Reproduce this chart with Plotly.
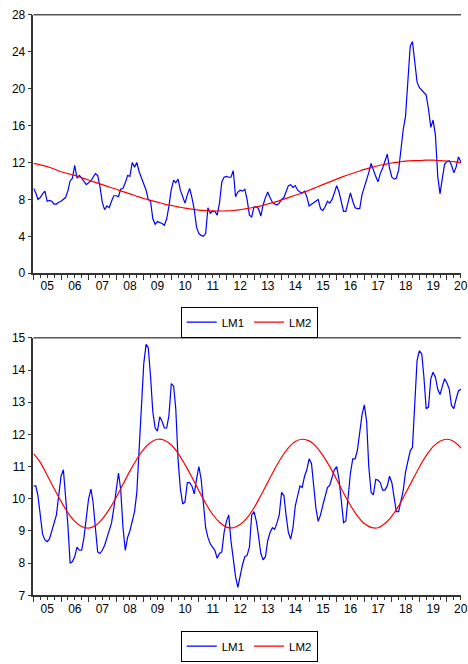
import pandas as pd
import plotly.graph_objects as go

# ---------------- data (monthly, 2005M01 onward) ----------------
top_lm1 = [
    9.2, 8.7, 8.0, 8.2, 8.6, 8.9, 7.8, 7.9, 7.8, 7.5, 7.5, 7.7,
    7.8, 8.0, 8.2, 8.9, 10.0, 10.3, 11.7, 10.3, 10.6, 10.3, 10.0, 9.6,
    9.8, 10.0, 10.4, 10.8, 10.6, 9.4, 7.7, 6.9, 7.3, 7.1, 7.8, 8.4,
    8.4, 8.3, 9.1, 9.2, 9.8, 10.6, 10.5, 12.0, 11.5, 12.0, 11.0, 10.4,
    9.8, 9.0, 8.0, 7.8, 5.9, 5.3, 5.6, 5.5, 5.4, 5.2, 5.9, 7.3,
    9.1, 10.1, 9.8, 10.2, 9.0, 8.3, 7.6, 8.5, 9.2, 8.2, 6.9, 5.0,
    4.3, 4.1, 4.0, 4.3, 7.1, 6.5, 6.7, 6.7, 6.3, 7.6, 9.9, 10.4,
    10.5, 10.4, 10.4, 11.1, 8.3, 8.8, 9.0, 8.9, 9.1, 8.0, 6.3, 6.1,
    7.2, 7.2, 7.0, 6.2, 7.4, 8.2, 8.8, 8.2, 7.7, 7.5, 7.4, 7.6,
    8.0, 8.2, 8.8, 9.5, 9.6, 9.3, 9.5, 9.0, 8.8, 8.7, 8.9, 8.3,
    7.3, 7.5, 7.6, 7.8, 8.0, 7.0, 6.8, 7.2, 7.8, 7.6, 8.0, 8.7,
    9.5, 8.8, 7.6, 6.7, 6.7, 7.8, 8.7, 7.8, 7.1, 7.0, 7.0, 8.5,
    9.3, 10.2, 10.9, 11.9, 11.1, 10.5, 9.9, 10.8, 11.4, 12.2, 12.9, 11.4,
    10.4, 10.2, 10.3, 11.2, 13.5, 15.6, 17.0, 21.0, 24.6, 25.1, 22.5, 20.7,
    20.1, 19.8, 19.6, 19.3, 17.8, 15.8, 16.6, 15.0, 10.5, 8.6, 10.3, 11.8,
    12.1, 12.2, 11.7, 10.9, 11.5, 12.6, 12.1, 12.2, 12.0, 12.3, 12.1, 12.0,
]

# quarterly readings of the smooth LM2 curve (top panel)
top_lm2 = [
    11.9, 11.75, 11.55, 11.3, 11.0, 10.8, 10.6, 10.35, 10.1, 9.85, 9.6, 9.35,
    9.1, 8.85, 8.6, 8.35, 8.1, 7.9, 7.7, 7.5, 7.35, 7.2, 7.05, 6.95,
    6.85, 6.8, 6.75, 6.75, 6.75, 6.8, 6.9, 7.0, 7.15, 7.3, 7.5, 7.7,
    7.95, 8.2, 8.45, 8.7, 9.0, 9.3, 9.6, 9.9, 10.2, 10.5, 10.75, 11.0,
    11.25, 11.45, 11.65, 11.8, 11.95, 12.05, 12.15, 12.2, 12.2, 12.25, 12.25, 12.2,
    12.15, 12.1, 12.0, 11.95,
]

bot_lm1 = [
    10.4, 10.4, 10.1, 9.4, 8.9, 8.72, 8.67, 8.75, 9.0, 9.3, 9.5, 10.1,
    10.7, 10.9, 10.1, 9.2, 8.0, 8.05, 8.2, 8.5, 8.4, 8.4, 8.8, 9.5,
    10.0, 10.3, 9.9, 9.1, 8.35, 8.3, 8.4, 8.55, 8.8, 9.0, 9.25, 9.7,
    10.3, 10.8, 10.3, 9.1, 8.4, 8.8, 9.0, 9.3, 9.6, 10.2, 11.5, 13.1,
    14.2, 14.8, 14.7, 13.8, 12.7, 12.2, 12.1, 12.55, 12.4, 12.2, 12.2, 12.6,
    13.58, 13.5, 12.8, 11.2, 10.3, 9.84, 9.9, 10.5, 10.5, 10.4, 10.15, 10.6,
    11.0, 10.6, 9.8, 9.1, 8.8, 8.6, 8.5, 8.4, 8.15, 8.3, 8.35, 8.95,
    9.3, 9.5, 8.7, 8.1, 7.58, 7.25, 7.6, 7.95, 8.2, 8.24, 8.5, 9.5,
    9.6, 9.3, 8.85, 8.3, 8.1, 8.2, 8.7, 8.95, 9.1, 9.05, 9.25, 9.5,
    10.2, 10.1, 9.5, 8.95, 8.75, 9.1, 9.77, 10.1, 10.4, 10.35, 10.7, 10.9,
    11.24, 11.1, 10.4, 9.7, 9.3, 9.5, 9.8, 10.1, 10.35, 10.42, 10.7, 10.9,
    11.0, 10.6, 9.97, 9.26, 9.31, 10.05, 10.8, 11.24, 11.24, 11.5, 12.05, 12.6,
    12.92, 12.4, 11.0, 10.2, 10.12, 10.6, 10.58, 10.5, 10.27, 10.27, 10.4, 10.7,
    10.5, 10.0, 9.6, 9.6, 9.9, 10.27, 10.83, 11.2, 11.49, 11.6, 13.0, 14.3,
    14.6, 14.5, 13.8, 12.8, 12.85, 13.73, 13.93, 13.78, 13.4, 13.24, 13.5, 13.73,
    13.6, 13.4, 12.9, 12.8, 13.1, 13.35, 13.4, 13.4, 13.3, 13.2, 13.3, 13.4,
]

# quarterly readings of the smooth LM2 curve (bottom panel)
bot_lm2 = [
    11.4, 11.13, 10.73, 10.32, 9.92, 9.57, 9.30, 9.14, 9.09, 9.17, 9.37, 9.67,
    10.04, 10.45, 10.86, 11.23, 11.54, 11.75, 11.85, 11.82, 11.67, 11.41, 11.06, 10.67,
    10.25, 9.86, 9.52, 9.27, 9.12, 9.10, 9.20, 9.41, 9.72, 10.10, 10.51, 10.92,
    11.29, 11.58, 11.78, 11.85, 11.80, 11.63, 11.35, 11.00, 10.60, 10.18, 9.80, 9.47,
    9.23, 9.11, 9.10, 9.23, 9.46, 9.78, 10.17, 10.58, 10.99, 11.34, 11.62, 11.79,
    11.85, 11.78, 11.59, 11.30,
]

top_ticks = [0, 4, 8, 12, 16, 20, 24, 28]
bot_ticks = [7, 8, 9, 10, 11, 12, 13, 14, 15]
series_names = ["LM1", "LM2"]

months_top = pd.date_range("2005-01-01", periods=len(top_lm1), freq="MS")
quarters_top = pd.date_range("2005-01-01", periods=len(top_lm2), freq="3MS")
months_bot = pd.date_range("2005-01-01", periods=len(bot_lm1), freq="MS")
quarters_bot = pd.date_range("2005-01-01", periods=len(bot_lm2), freq="3MS")

BLUE = "#0000FF"
RED = "#FF0000"
AX = "#333333"
FONT = "Liberation Sans, Arial, sans-serif"

fig = go.Figure()
fig.add_trace(go.Scatter(x=months_top, y=top_lm1, mode="lines", name=series_names[0],
                         line=dict(color=BLUE, width=1.2), xaxis="x", yaxis="y", legend="legend"))
fig.add_trace(go.Scatter(x=quarters_top, y=top_lm2, mode="lines", name=series_names[1],
                         line=dict(color=RED, width=1.2, shape="spline"), xaxis="x", yaxis="y", legend="legend"))
fig.add_trace(go.Scatter(x=months_bot, y=bot_lm1, mode="lines", name=series_names[0],
                         line=dict(color=BLUE, width=1.2), xaxis="x2", yaxis="y2", legend="legend2"))
fig.add_trace(go.Scatter(x=quarters_bot, y=bot_lm2, mode="lines", name=series_names[1],
                         line=dict(color=RED, width=1.2, shape="spline"), xaxis="x2", yaxis="y2", legend="legend2"))

W, H = 468, 664
x0 = 34 / W
top_dom = [(H - 272) / H, (H - 8) / H]
bot_dom = [(H - 601) / H, (H - 338) / H]

def xaxis_cfg(anchor):
    return dict(
        type="date", domain=[x0, 1], anchor=anchor,
        range=["2005-01-01", "2020-07-05"],
        tick0="2005-01-01", dtick="M12", ticklabelmode="period", tickformat="%y",
        ticks="outside", ticklen=5, tickwidth=1, tickcolor=AX,
        ticklabelstandoff=-4, ticklabeloverflow="allow",
        minor=dict(dtick="M3", ticks="outside", ticklen=3, tickwidth=1, tickcolor=AX, showgrid=False),
        showline=True, linecolor=AX, linewidth=1.6,
        showgrid=False, zeroline=False,
        tickfont=dict(family=FONT, size=12, color="black"),
    )

def yaxis_cfg(anchor, dom, rng, vals):
    return dict(
        domain=dom, anchor=anchor, range=rng, tickvals=vals,
        ticks="outside", ticklen=4, tickwidth=1, tickcolor=AX,
        showline=True, linecolor=AX, linewidth=1.6,
        showgrid=False, zeroline=False,
        tickfont=dict(family=FONT, size=12, color="black"),
    )

legend_common = dict(orientation="h", xanchor="center", yanchor="top",
                     bordercolor="black", borderwidth=1, bgcolor="white",
                     font=dict(family=FONT, size=11.5, color="black"),
                     tracegroupgap=0)

fig.update_layout(
    width=W, height=H,
    margin=dict(l=0, r=0, t=0, b=0),
    paper_bgcolor="white", plot_bgcolor="white",
    font=dict(family=FONT, size=12, color="black"),
    xaxis=xaxis_cfg("y"),
    yaxis=yaxis_cfg("x", top_dom, [0, 28], top_ticks),
    xaxis2=xaxis_cfg("y2"),
    yaxis2=yaxis_cfg("x2", bot_dom, [7, 15], bot_ticks),
    legend=dict(x=253 / W, y=(H - 306) / H, **legend_common),
    legend2=dict(x=253 / W, y=(H - 637) / H, **legend_common),
    shapes=[
        dict(type="line", xref="paper", yref="paper", x0=x0, x1=1, y0=top_dom[1], y1=top_dom[1],
             line=dict(color="black", width=1)),
        dict(type="line", xref="paper", yref="paper", x0=x0, x1=1, y0=bot_dom[1], y1=bot_dom[1],
             line=dict(color="black", width=1)),
    ],
    showlegend=True,
)

fig.write_html(
    "out.html",
    config={"displayModeBar": False},
    post_script="document.body.style.margin='0';document.body.style.overflow='hidden';",
)
